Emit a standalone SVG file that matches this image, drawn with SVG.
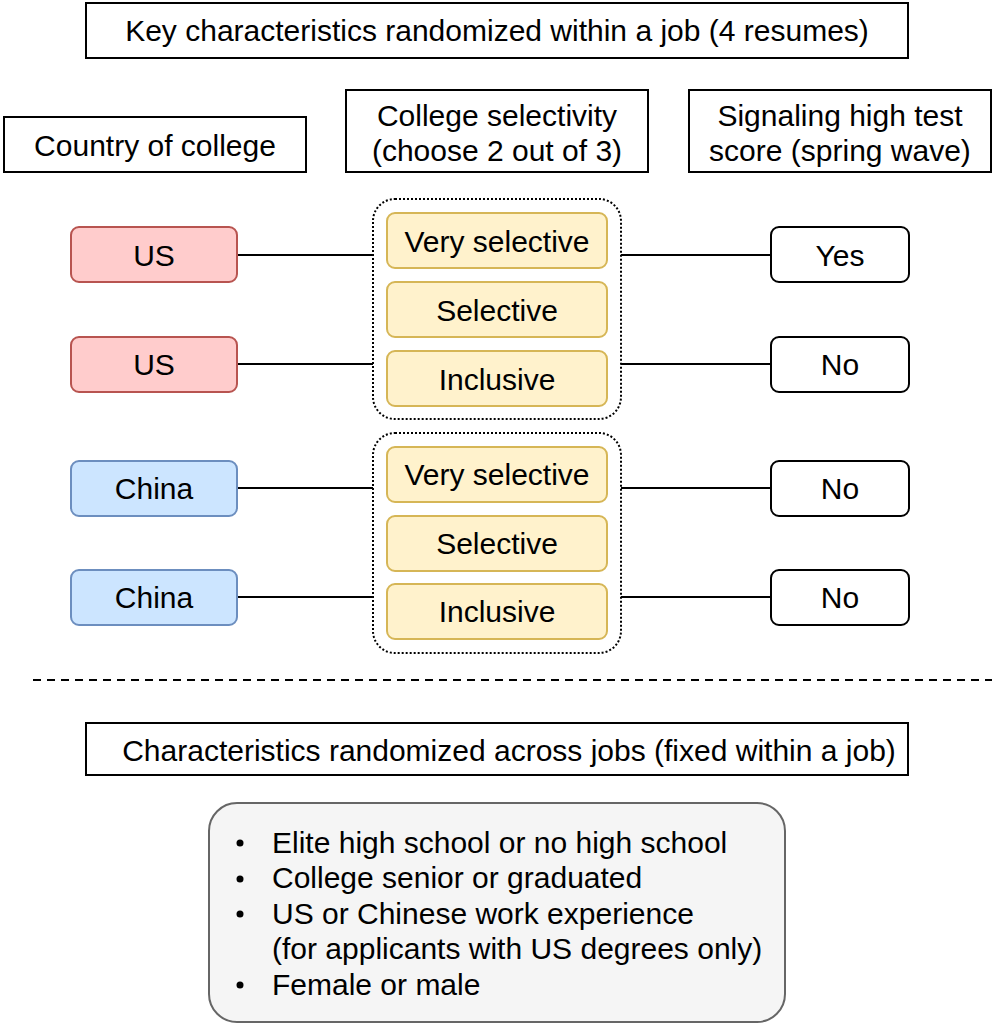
<svg xmlns="http://www.w3.org/2000/svg" width="992" height="1025" viewBox="0 0 992 1025">
<style>
text{font-family:"Liberation Sans",Arial,Helvetica,sans-serif;font-size:30px;fill:#000;}
.c{text-anchor:middle;dominant-baseline:central;}
.hdr{fill:#fff;stroke:#000;stroke-width:2;}
.us{fill:#ffcccc;stroke:#b85450;stroke-width:2;}
.cn{fill:#cce5ff;stroke:#6c8ebf;stroke-width:2;}
.sel{fill:#fff2cc;stroke:#d6b656;stroke-width:2;}
.yn{fill:#fff;stroke:#000;stroke-width:2;}
.grp{fill:none;stroke:#000;stroke-width:2;stroke-dasharray:2 2;}
.ln{stroke:#000;stroke-width:2;fill:none;}
</style>
<rect width="992" height="1025" fill="#fff"/>
<g id="title"><rect class="hdr" x="86" y="3" width="822" height="55"/><text class="c" x="497" y="30">Key characteristics randomized within a job (4 resumes)</text></g>
<g id="h-country"><rect class="hdr" x="4" y="117" width="302" height="55"/><text class="c" x="155" y="145">Country of college</text></g>
<g id="h-selectivity"><rect class="hdr" x="346" y="90" width="302" height="82"/><text class="c" x="497" y="115">College selectivity</text><text class="c" x="497" y="150">(choose 2 out of 3)</text></g>
<g id="h-signal"><rect class="hdr" x="689" y="90" width="302" height="82"/><text class="c" x="840" y="115">Signaling high test</text><text class="c" x="840" y="150">score (spring wave)</text></g>

<g id="connectors">
<line class="ln" x1="237" y1="255" x2="373" y2="255"/>
<line class="ln" x1="237" y1="364" x2="373" y2="364"/>
<line class="ln" x1="237" y1="488" x2="373" y2="488"/>
<line class="ln" x1="237" y1="597" x2="373" y2="597"/>
<line class="ln" x1="621" y1="255" x2="771" y2="255"/>
<line class="ln" x1="621" y1="364" x2="771" y2="364"/>
<line class="ln" x1="621" y1="488" x2="771" y2="488"/>
<line class="ln" x1="621" y1="597" x2="771" y2="597"/>
</g>

<g id="us1"><rect class="us" x="71" y="227" width="166" height="55" rx="8"/><text class="c" x="154" y="255">US</text></g>
<g id="us2"><rect class="us" x="71" y="337" width="166" height="55" rx="8"/><text class="c" x="154" y="364">US</text></g>
<g id="cn1"><rect class="cn" x="71" y="461" width="166" height="55" rx="8"/><text class="c" x="154" y="488">China</text></g>
<g id="cn2"><rect class="cn" x="71" y="570" width="166" height="55" rx="8"/><text class="c" x="154" y="597">China</text></g>

<g id="group1"><rect class="grp" x="373" y="199" width="248" height="220" rx="22"/></g>
<g id="sel1-vs"><rect class="sel" x="387" y="213" width="220" height="55" rx="8"/><text class="c" x="497" y="241">Very selective</text></g>
<g id="sel1-s"><rect class="sel" x="387" y="282" width="220" height="55" rx="8"/><text class="c" x="497" y="310">Selective</text></g>
<g id="sel1-i"><rect class="sel" x="387" y="351" width="220" height="55" rx="8"/><text class="c" x="497" y="379">Inclusive</text></g>

<g id="group2"><rect class="grp" x="373" y="433" width="248" height="220" rx="22"/></g>
<g id="sel2-vs"><rect class="sel" x="387" y="447" width="220" height="55" rx="8"/><text class="c" x="497" y="474">Very selective</text></g>
<g id="sel2-s"><rect class="sel" x="387" y="516" width="220" height="55" rx="8"/><text class="c" x="497" y="543">Selective</text></g>
<g id="sel2-i"><rect class="sel" x="387" y="584" width="220" height="55" rx="8"/><text class="c" x="497" y="611">Inclusive</text></g>

<g id="yn1"><rect class="yn" x="771" y="227" width="138" height="55" rx="8"/><text class="c" x="840" y="255">Yes</text></g>
<g id="yn2"><rect class="yn" x="771" y="337" width="138" height="55" rx="8"/><text class="c" x="840" y="364">No</text></g>
<g id="yn3"><rect class="yn" x="771" y="461" width="138" height="55" rx="8"/><text class="c" x="840" y="488">No</text></g>
<g id="yn4"><rect class="yn" x="771" y="570" width="138" height="55" rx="8"/><text class="c" x="840" y="597">No</text></g>

<g id="divider"><line x1="33" y1="680" x2="992" y2="680" stroke="#000" stroke-width="2" stroke-dasharray="8 6"/></g>

<g id="title2"><rect class="hdr" x="86" y="723" width="822" height="52"/><text class="c" x="509" y="750">Characteristics randomized across jobs (fixed within a job)</text></g>

<g id="fixed-list"><rect x="209" y="803" width="576" height="219" rx="28" fill="#f5f5f5" stroke="#666666" stroke-width="2"/>
<circle cx="240" cy="843" r="3.5" fill="#000"/><circle cx="240" cy="879" r="3.5" fill="#000"/><circle cx="240" cy="914" r="3.5" fill="#000"/><circle cx="240" cy="985" r="3.5" fill="#000"/>
<text x="272" y="842" dominant-baseline="central">Elite high school or no high school</text>
<text x="272" y="877" dominant-baseline="central">College senior or graduated</text>
<text x="272" y="913" dominant-baseline="central">US or Chinese work experience</text>
<text x="272" y="948" dominant-baseline="central">(for applicants with US degrees only)</text>
<text x="272" y="984" dominant-baseline="central">Female or male</text>
</g>
</svg>
